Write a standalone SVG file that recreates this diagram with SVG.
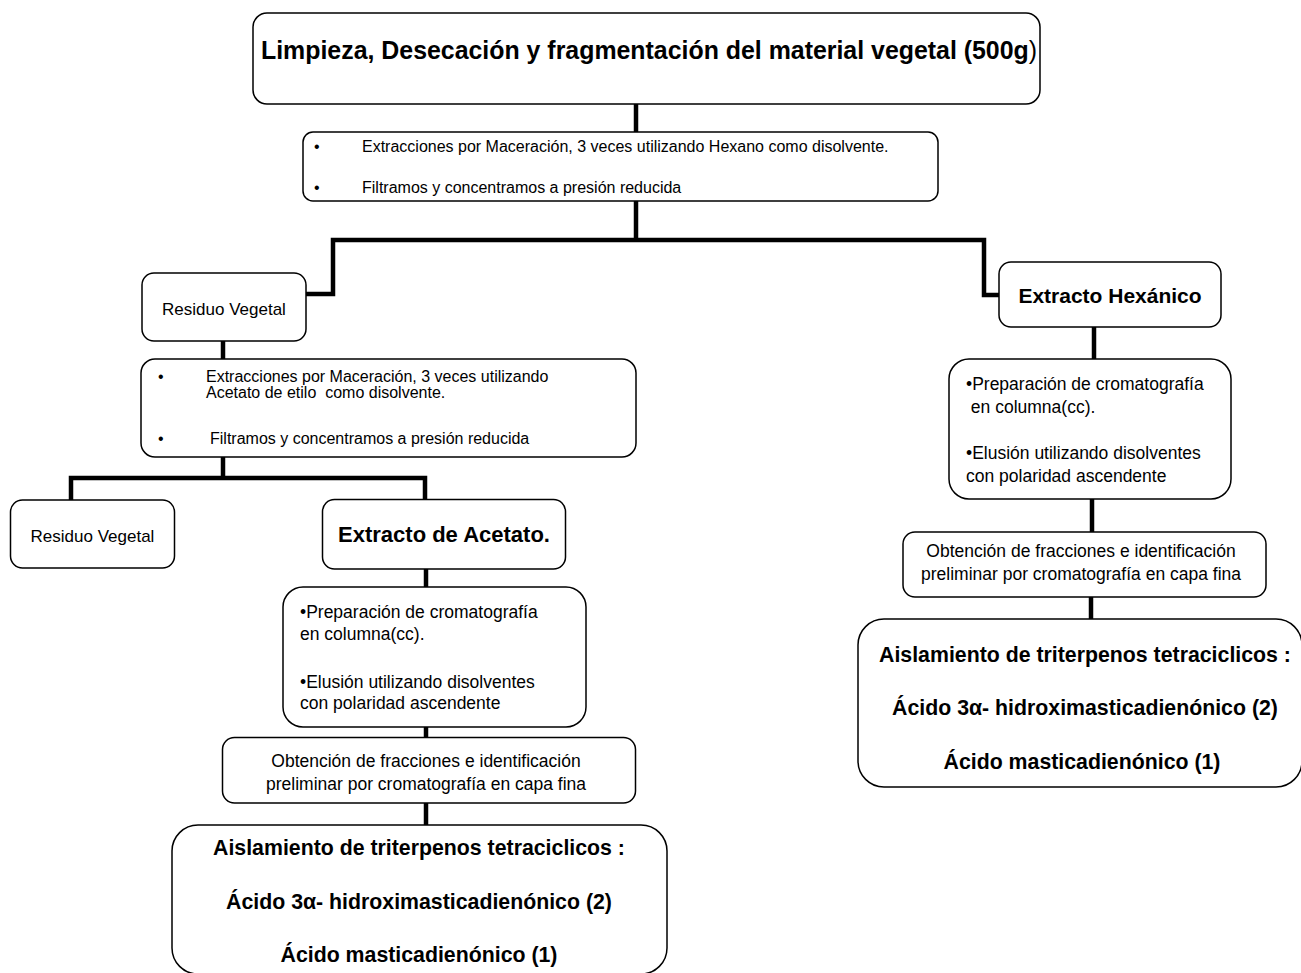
<svg xmlns="http://www.w3.org/2000/svg" width="1301" height="973" viewBox="0 0 1301 973">
<style>
.box{fill:#fff;stroke:#000;stroke-width:1.5}
.con{fill:none;stroke:#000;stroke-width:4.5;stroke-linejoin:miter;stroke-linecap:butt}
text{font-family:"Liberation Sans",Arial,sans-serif;fill:#000}
.b{font-weight:bold}
.s16{font-size:16px}
.s17{font-size:17.5px}
.c{text-anchor:middle}
</style>
<rect width="1301" height="973" fill="#fff"/>
<g id="connectors">
<path class="con" d="M636 104V132"/>
<path class="con" d="M636 201V240"/>
<path class="con" d="M306 294H333V240H984V295H999"/>
<path class="con" d="M223 341V359"/>
<path class="con" d="M223 457V478"/>
<path class="con" d="M71 500V478H425V499"/>
<path class="con" d="M426 569V587"/>
<path class="con" d="M426 727V738"/>
<path class="con" d="M426 803V825"/>
<path class="con" d="M1094 327V359"/>
<path class="con" d="M1092 499V532"/>
<path class="con" d="M1091 597V619"/>
</g>
<g id="n-title">
<rect class="box" x="253" y="13" width="787" height="91" rx="14"/>
<text class="b" x="261" y="59" font-size="24.9">Limpieza, Desecación y fragmentación del material vegetal (500g<tspan font-weight="normal">)</tspan></text>
</g>
<g id="n-hexano-ext">
<rect class="box" x="303" y="132" width="635" height="69" rx="10"/>
<text class="s16" x="314" y="152">•</text>
<text class="s16" x="362" y="152">Extracciones por Maceración, 3 veces utilizando Hexano como disolvente.</text>
<text class="s16" x="314" y="193">•</text>
<text class="s16" x="362" y="193">Filtramos y concentramos a presión reducida</text>
</g>
<g id="n-residuo1">
<rect class="box" x="142" y="273" width="164" height="68" rx="12"/>
<text class="c" x="224" y="315" font-size="17">Residuo Vegetal</text>
</g>
<g id="n-hexanico">
<rect class="box" x="999" y="262" width="222" height="65" rx="12"/>
<text class="b c" x="1110" y="303" font-size="21">Extracto Hexánico</text>
</g>
<g id="n-acetato-ext">
<rect class="box" x="141" y="359" width="495" height="98" rx="14"/>
<text class="s16" x="158" y="382">•</text>
<text class="s16" x="206" y="382">Extracciones por Maceración, 3 veces utilizando</text>
<text class="s16" x="206" y="398" xml:space="preserve">Acetato de etilo  como disolvente.</text>
<text class="s16" x="158" y="444">•</text>
<text class="s16" x="210" y="444">Filtramos y concentramos a presión reducida</text>
</g>
<g id="n-residuo2">
<rect class="box" x="10.5" y="500" width="164" height="68" rx="12"/>
<text class="c" x="92.5" y="542" font-size="17">Residuo Vegetal</text>
</g>
<g id="n-acetato">
<rect class="box" x="322.5" y="499.5" width="243" height="69.5" rx="12"/>
<text class="b c" x="444" y="542" font-size="22">Extracto de Acetato.</text>
</g>
<g id="n-prep-left">
<rect class="box" x="283" y="587" width="303" height="140" rx="20"/>
<text class="s17" x="300" y="618">•Preparación de cromatografía</text>
<text class="s17" x="300" y="640">en columna(cc).</text>
<text class="s17" x="300" y="688">•Elusión utilizando disolventes</text>
<text class="s17" x="300" y="709">con polaridad ascendente</text>
</g>
<g id="n-obt-left">
<rect class="box" x="222.5" y="737.5" width="413" height="65.5" rx="12"/>
<text class="s17 c" x="426" y="767">Obtención de fracciones e identificación</text>
<text class="s17 c" x="426" y="790">preliminar por cromatografía en capa fina</text>
</g>
<g id="n-aisl-left">
<rect class="box" x="172" y="825" width="495" height="149" rx="26"/>
<text class="b c" x="419" y="855" font-size="21.3">Aislamiento de triterpenos tetraciclicos :</text>
<text class="b c" x="419" y="909" font-size="21.3">Ácido 3α- hidroximasticadienónico (2)</text>
<text class="b c" x="419" y="962" font-size="21.3">Ácido masticadienónico (1)</text>
</g>
<g id="n-prep-right">
<rect class="box" x="949" y="359" width="282" height="140" rx="20"/>
<text class="s17" x="966" y="390">•Preparación de cromatografía</text>
<text class="s17" x="966" y="413" xml:space="preserve"> en columna(cc).</text>
<text class="s17" x="966" y="459">•Elusión utilizando disolventes</text>
<text class="s17" x="966" y="482">con polaridad ascendente</text>
</g>
<g id="n-obt-right">
<rect class="box" x="903" y="532" width="363" height="65" rx="12"/>
<text class="s17 c" x="1081" y="557">Obtención de fracciones e identificación</text>
<text class="s17 c" x="1081" y="580">preliminar por cromatografía en capa fina</text>
</g>
<g id="n-aisl-right">
<rect class="box" x="858" y="619" width="444" height="168" rx="26"/>
<text class="b c" x="1085" y="662" font-size="21.3">Aislamiento de triterpenos tetraciclicos :</text>
<text class="b c" x="1085" y="715" font-size="21.3">Ácido 3α- hidroximasticadienónico (2)</text>
<text class="b c" x="1082" y="769" font-size="21.3">Ácido masticadienónico (1)</text>
</g>
</svg>
